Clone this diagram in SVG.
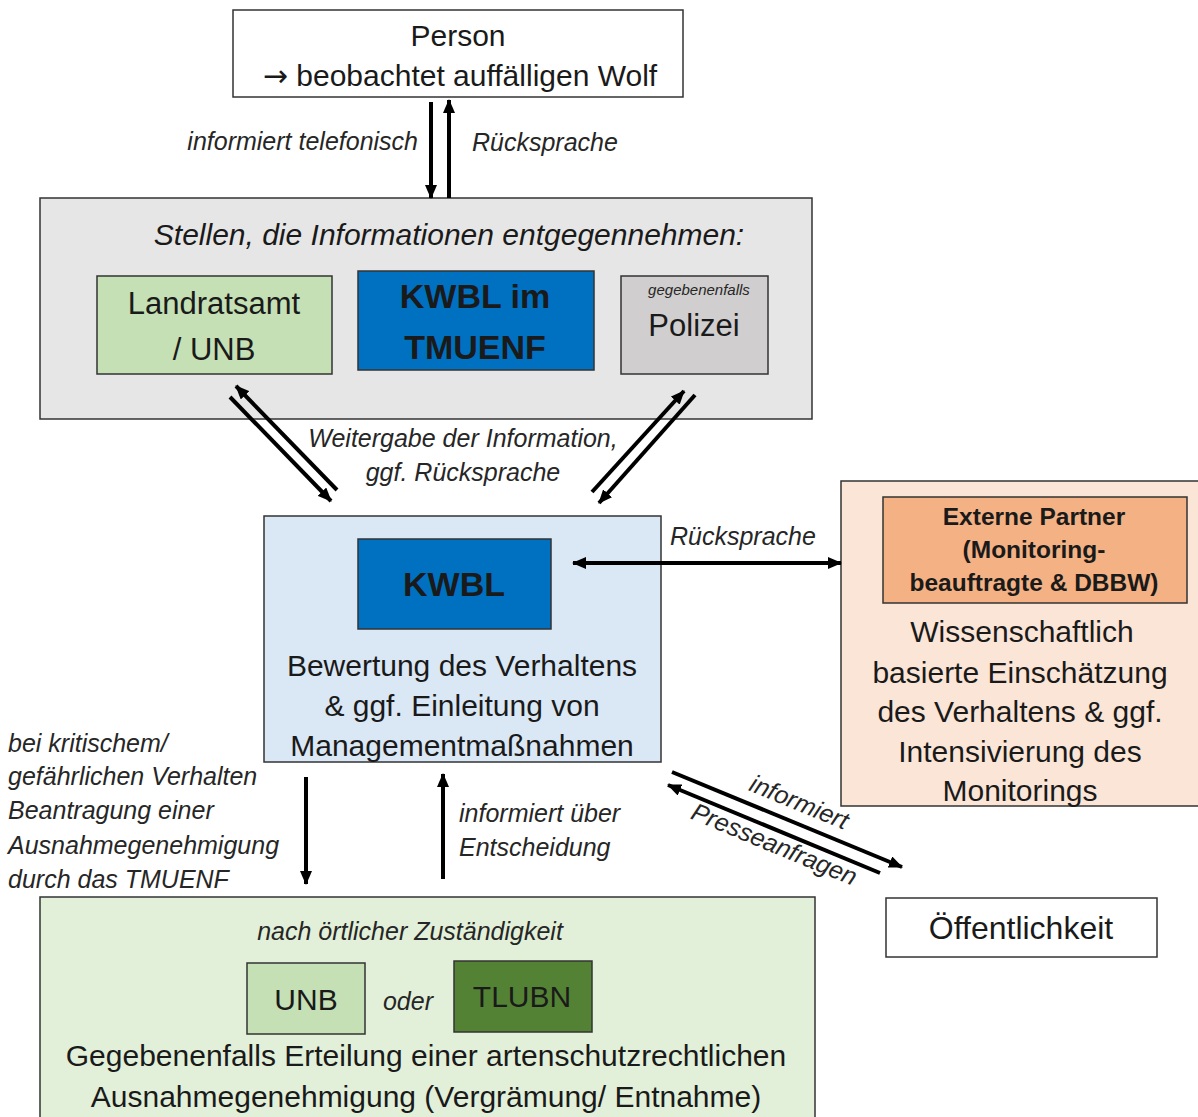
<svg xmlns="http://www.w3.org/2000/svg" width="1198" height="1117" viewBox="0 0 1198 1117">
<style>
text{font-family:"Liberation Sans",Arial,sans-serif;fill:#1a1a1a;text-anchor:middle}
.m{font-size:30px}
.it{font-size:25px;font-style:italic;fill:#262626}
.st{font-size:30px;font-style:italic}
.b{font-weight:bold}
.box{stroke:#333;stroke-width:1.5}
.ln{stroke:#000;stroke-width:4;fill:none}
.l{text-anchor:start}
.arr{font-family:"DejaVu Sans",sans-serif}
</style>
<defs>
<marker id="ah" viewBox="0 0 14 12" refX="13" refY="6" markerWidth="14" markerHeight="12" markerUnits="userSpaceOnUse" orient="auto-start-reverse">
<path d="M0,0 L14,6 L0,12 Z" fill="#000"/>
</marker>
</defs>
<rect width="1198" height="1117" fill="#fff"/>
<g id="person">
<rect class="box" x="233" y="10" width="450" height="87" fill="#fff"/>
<text class="m" x="458" y="46">Person</text>
<text class="m" x="460" y="86"><tspan class="arr">→</tspan> beobachtet auffälligen Wolf</text>
</g>
<g id="stellen">
<rect class="box" x="40" y="198" width="772" height="221" fill="#e7e6e6"/>
<text class="st" x="449" y="245">Stellen, die Informationen entgegennehmen:</text>
</g>
<g id="landratsamt">
<rect class="box" x="97" y="276" width="235" height="98" fill="#c5e0b4"/>
<text class="m" x="214" y="314" style="font-size:31px">Landratsamt</text>
<text class="m" x="214" y="360" style="font-size:31px">/ UNB</text>
</g>
<g id="kwbl-tmuenf">
<rect class="box" x="358" y="271" width="236" height="99" fill="#0070c0"/>
<text class="b" x="475" y="308" style="font-size:34px">KWBL im</text>
<text class="b" x="475" y="359" style="font-size:34px">TMUENF</text>
</g>
<g id="polizei">
<rect class="box" x="621" y="276" width="147" height="98" fill="#d0cece"/>
<text class="it" x="699" y="295" style="font-size:15px">gegebenenfalls</text>
<text class="m" x="694" y="336" style="font-size:31px">Polizei</text>
</g>
<g id="kwbl">
<rect class="box" x="264" y="516" width="397" height="246" fill="#dae8f5"/>
<rect class="box" x="358" y="539" width="193" height="90" fill="#0070c0"/>
<text class="b" x="454" y="596" style="font-size:34px">KWBL</text>
<text class="m" x="462" y="676">Bewertung des Verhaltens</text>
<text class="m" x="462" y="716">&amp; ggf. Einleitung von</text>
<text class="m" x="462" y="756">Managementmaßnahmen</text>
</g>
<g id="externe">
<rect class="box" x="841" y="481" width="360" height="325" fill="#fbe5d6"/>
<rect class="box" x="883" y="497" width="304" height="106" fill="#f4b183"/>
<text class="b" x="1034" y="525" style="font-size:24.5px">Externe Partner</text>
<text class="b" x="1034" y="558" style="font-size:24.5px">(Monitoring-</text>
<text class="b" x="1034" y="591" style="font-size:24.5px">beauftragte &amp; DBBW)</text>
<text class="m" x="1022" y="642">Wissenschaftlich</text>
<text class="m" x="1020" y="683">basierte Einschätzung</text>
<text class="m" x="1020" y="722">des Verhaltens &amp; ggf.</text>
<text class="m" x="1020" y="762">Intensivierung des</text>
<text class="m" x="1020" y="801">Monitorings</text>
</g>
<g id="oeffentlichkeit">
<rect class="box" x="886" y="898" width="271" height="59" fill="#fff"/>
<text class="m" x="1021" y="939" style="font-size:32px">Öffentlichkeit</text>
</g>
<g id="behoerde">
<rect class="box" x="40" y="897" width="775" height="240" fill="#e2f0d9"/>
<text class="it" x="410" y="940">nach örtlicher Zuständigkeit</text>
<rect class="box" x="247" y="963" width="118" height="71" fill="#c5e0b4"/>
<text class="m" x="306" y="1010">UNB</text>
<text class="it" x="408" y="1010">oder</text>
<rect class="box" x="454" y="961" width="138" height="71" fill="#548235"/>
<text class="m" x="522" y="1007">TLUBN</text>
<text class="m" x="426" y="1066">Gegebenenfalls Erteilung einer artenschutzrechtlichen</text>
<text class="m" x="426" y="1107">Ausnahmegenehmigung (Vergrämung/ Entnahme)</text>
</g>
<g id="connectors">
<line class="ln" x1="431" y1="102" x2="431" y2="198" marker-end="url(#ah)"/>
<line class="ln" x1="449" y1="198" x2="449" y2="100" marker-end="url(#ah)"/>
<line class="ln" x1="337" y1="490" x2="236" y2="386" marker-end="url(#ah)"/>
<line class="ln" x1="230" y1="397" x2="331" y2="501" marker-end="url(#ah)"/>
<line class="ln" x1="592" y1="492" x2="684" y2="391" marker-end="url(#ah)"/>
<line class="ln" x1="695" y1="395" x2="599" y2="503" marker-end="url(#ah)"/>
<line class="ln" x1="573" y1="563" x2="841" y2="563" marker-start="url(#ah)" marker-end="url(#ah)"/>
<line class="ln" x1="672" y1="772" x2="902" y2="867" marker-end="url(#ah)"/>
<line class="ln" x1="880" y1="873" x2="668" y2="785" marker-end="url(#ah)"/>
<line class="ln" x1="306" y1="777" x2="306" y2="884" marker-end="url(#ah)"/>
<line class="ln" x1="443" y1="879" x2="443" y2="774" marker-end="url(#ah)"/>
<text class="it" x="418" y="150" style="text-anchor:end">informiert telefonisch</text>
<text class="it l" x="472" y="151">Rücksprache</text>
<text class="it" x="463" y="447">Weitergabe der Information,</text>
<text class="it" x="463" y="481">ggf. Rücksprache</text>
<text class="it l" x="670" y="545">Rücksprache</text>
<text class="it" transform="translate(796,810) rotate(22.5)">informiert</text>
<text class="it" transform="translate(771,852) rotate(22.5)">Presseanfragen</text>
<text class="it l" x="8" y="752">bei kritischem/</text>
<text class="it l" x="8" y="785">gefährlichen Verhalten</text>
<text class="it l" x="8" y="819">Beantragung einer</text>
<text class="it l" x="8" y="854">Ausnahmegenehmigung</text>
<text class="it l" x="8" y="888">durch das TMUENF</text>
<text class="it l" x="459" y="822">informiert über</text>
<text class="it l" x="459" y="856">Entscheidung</text>
</g>
</svg>
